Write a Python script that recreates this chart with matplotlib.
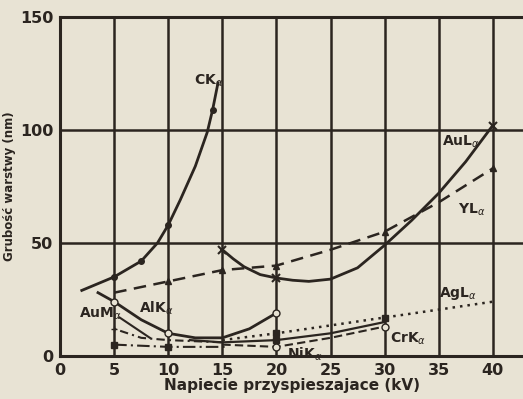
import matplotlib
matplotlib.use("Agg")
import matplotlib.pyplot as plt

# ---- data ----
x_ticks = [0, 5, 10, 15, 20, 25, 30, 35, 40]
y_ticks = [0, 50, 100, 150]
y_tick_labels = ["0", "50", "100", "150"]

ck_x = [2, 3.5, 5, 7.5, 9, 10, 11.1, 12.5, 13.6, 14.1, 14.6]
ck_y = [29, 32, 35, 42, 50, 58, 69, 84, 99, 109, 121]

aul_x = [15, 16, 17, 18.5, 20, 21.5, 23, 25, 27.5, 30, 32.5, 35, 37.5, 40]
aul_y = [47, 43, 39.5, 36, 34.5, 33.5, 33, 34, 39, 49, 60, 72, 86, 102]

yl_x = [5, 10, 15, 20, 25, 30, 35, 40]
yl_y = [28, 33, 38, 40, 47, 55, 68, 83]

alk_x = [3.5, 5, 7.5, 10, 12.5, 15, 17.5, 20]
alk_y = [28, 24, 16, 10, 8, 8, 12, 19]

aum_x = [5.5, 8.3]
aum_y = [17, 8]

plus_x = [5, 7.5, 10, 15]
plus_y = [12, 8, 7, 6]

sq_x = [5, 10, 15.5]
sq_y = [5, 4, 4]

nik_x = [15, 20, 25, 30]
nik_y = [5, 4, 8, 13]

agl_x = [15, 20, 30, 40]
agl_y = [7, 10, 17, 24]

crk_x = [12, 15, 20, 25, 30]
crk_y = [7, 6, 7, 10, 15]

# ---- style ----
paper = "#e8e3d4"
ink = "#2b2520"

fig = plt.figure(figsize=(5.23, 3.99), dpi=100, facecolor=paper)
ax = fig.add_axes([0.115, 0.108, 0.885, 0.849])
ax.set_facecolor(paper)
ax.set_xlim(0, 42.8)
ax.set_ylim(0, 150)

ax.set_xticks(x_ticks)
ax.set_yticks(y_ticks)
ax.set_yticklabels(y_tick_labels)
ax.grid(True, color=ink, linewidth=1.8)
ax.set_axisbelow(True)
for s in ["left", "bottom", "top"]:
    ax.spines[s].set_color(ink)
    ax.spines[s].set_linewidth(2.2)
ax.spines["right"].set_visible(False)
ax.tick_params(length=0, pad=5, colors=ink, labelsize=11.5)
for lbl in ax.get_xticklabels() + ax.get_yticklabels():
    lbl.set_fontweight("bold")

lw = 2.0
ax.plot(ck_x, ck_y, color=ink, lw=lw, marker="o", ms=4, markevery=[2, 3, 5, 9])
ax.plot(aul_x, aul_y, color=ink, lw=lw, marker="x", ms=6, mew=1.5, markevery=[0, 4, 13])
ax.plot(yl_x, yl_y, color=ink, lw=1.8, ls=(0, (5, 3)), marker="^", ms=5, markevery=[1, 2, 3, 5, 7])
ax.plot(alk_x, alk_y, color=ink, lw=lw, marker="o", ms=5, mfc=paper, markevery=[1, 3, 7])
ax.plot(aum_x, aum_y, color=ink, lw=1.5)
ax.plot(plus_x, plus_y, color=ink, lw=1.5, ls=(0, (1, 2, 4, 2)), marker="+", ms=5, markevery=[0])
ax.plot(sq_x, sq_y, color=ink, lw=1.5, ls=(0, (6, 2, 1, 2)), marker="s", ms=4, markevery=[0, 1])
ax.plot(nik_x, nik_y, color=ink, lw=1.5, ls=(0, (4, 2)), marker="o", ms=5, mfc=paper, markevery=[1, 3])
ax.plot(agl_x, agl_y, color=ink, lw=1.8, ls=(0, (1, 2)), marker="s", ms=4, markevery=[1, 2])
ax.plot(crk_x, crk_y, color=ink, lw=1.6, marker="s", ms=4, markevery=[2])

tk = dict(color=ink, fontsize=10, fontweight="bold")
ax.text(12.4, 120, r"CK$_\alpha$", **tk)
ax.text(35.3, 93, r"AuL$_\alpha$", **tk)
ax.text(36.8, 63, r"YL$_\alpha$", **tk)
ax.text(1.7, 17, r"AuM$_\alpha$", **tk)
ax.text(7.3, 19, r"AlK$_\alpha$", **tk)
ax.text(35.0, 26, r"AgL$_\alpha$", **tk)
ax.text(30.5, 6, r"CrK$_\alpha$", **tk)
ax.text(21.0, -1, r"NiK$_\alpha$", **tk)

ax.set_xlabel("Napiecie przyspieszajace (kV)", color=ink, fontsize=11,
              fontweight="bold", labelpad=0)
ax.set_ylabel("Grubość warstwy (nm)", color=ink, fontsize=8.5,
              fontweight="bold", labelpad=3)

fig.savefig("out.png", dpi=100, facecolor=paper)
